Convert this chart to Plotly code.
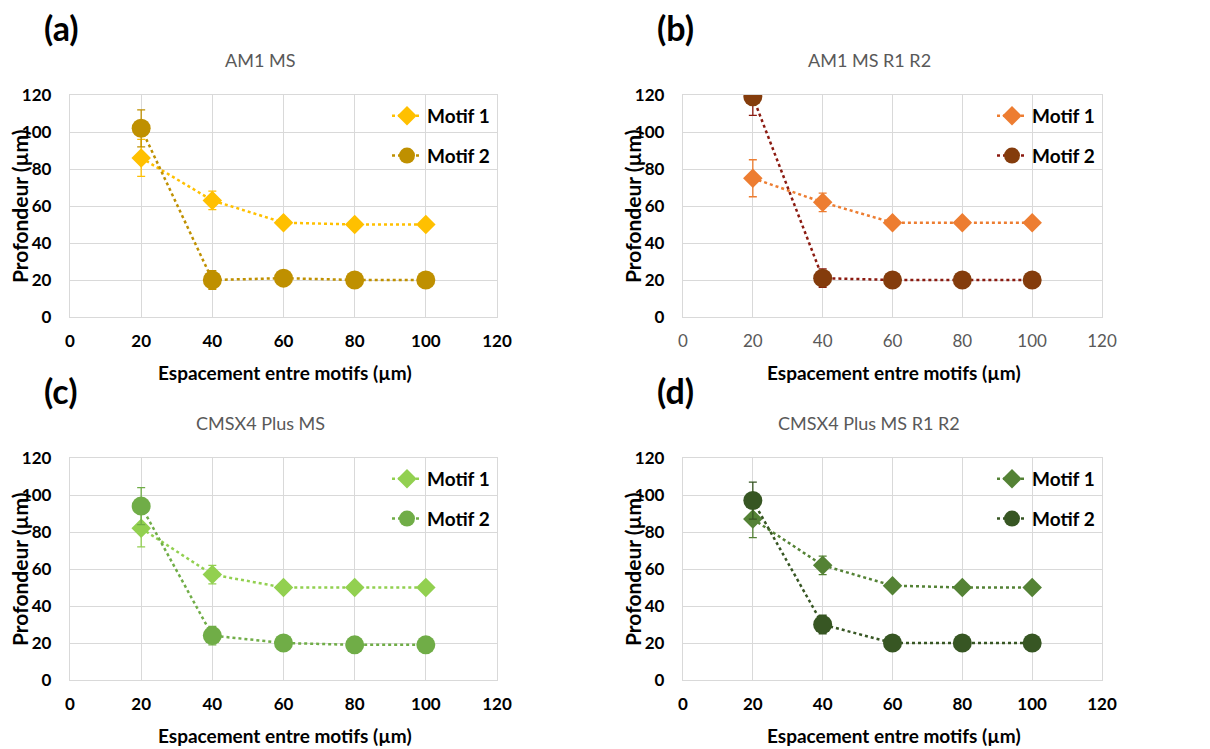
import plotly.graph_objects as go

# ---- data ----
spacing = [20, 40, 60, 80, 100]
panel_titles = ["AM1 MS", "AM1 MS R1 R2", "CMSX4 Plus MS", "CMSX4 Plus MS R1 R2"]
panel_labels = ["(a)", "(b)", "(c)", "(d)"]
series_names = ["Motif 1", "Motif 2"]

a_motif1 = [86, 63, 51, 50, 50]
a_motif1_err = [10, 5, 1, 1, 1]
a_motif2 = [102, 20, 21, 20, 20]
a_motif2_err = [10, 5, 1, 1, 1]

b_motif1 = [75, 62, 51, 51, 51]
b_motif1_err = [10, 5, 1, 1, 1]
b_motif2 = [119, 21, 20, 20, 20]
b_motif2_err = [10, 5, 1, 1, 1]

c_motif1 = [82, 57, 50, 50, 50]
c_motif1_err = [10, 5, 1, 1, 1]
c_motif2 = [94, 24, 20, 19, 19]
c_motif2_err = [10, 5, 1, 1, 1]

d_motif1 = [87, 62, 51, 50, 50]
d_motif1_err = [10, 5, 1, 1, 1]
d_motif2 = [97, 30, 20, 20, 20]
d_motif2_err = [10, 5, 1, 1, 1]

x_ticks = [0, 20, 40, 60, 80, 100, 120]
y_ticks = [0, 20, 40, 60, 80, 100, 120]

panels = [
    (a_motif1, a_motif1_err, a_motif2, a_motif2_err),
    (b_motif1, b_motif1_err, b_motif2, b_motif2_err),
    (c_motif1, c_motif1_err, c_motif2, c_motif2_err),
    (d_motif1, d_motif1_err, d_motif2, d_motif2_err),
]

# ---- styling ----
OFF = 8  # page body margin
W, H = 1210 - OFF, 749 - OFF
FONT = "Lato, 'Open Sans', sans-serif"
m1_colors = ["#FFC000", "#ED7D31", "#92D050", "#548235"]
m2_colors = ["#BF9000", "#843C0C", "#70AD47", "#375623"]
m2_line = ["#BF9000", "#8B1A10", "#70AD47", "#375623"]

# pixel boxes (window coords) of plot areas: (x0, x1, ytop, ybottom)
boxes = [(70, 497, 95, 317), (683, 1102, 95, 317),
         (70, 497, 458, 680), (683, 1102, 458, 680)]
title_centers = [260, 869, 260, 869]

def px_x(p):
    return (p - OFF) / W

def px_y(p):
    return 1 - (p - OFF) / H

fig = go.Figure()
annotations = []

for i, (m1, m1e, m2, m2e) in enumerate(panels):
    n = "" if i == 0 else str(i + 1)
    xa, ya = "x" + n, "y" + n
    leg = "legend" + n
    fig.add_trace(go.Scatter(
        x=spacing, y=m1, name=series_names[0], xaxis=xa, yaxis=ya,
        mode="lines+markers", legend=leg, legendgroup="g1",
        line=dict(color=m1_colors[i], width=2.5, dash="dot"),
        marker=dict(symbol="diamond", size=15, color=m1_colors[i]),
        error_y=dict(type="data", array=m1e, color=m1_colors[i], thickness=1.3, width=4),
    ))
    fig.add_trace(go.Scatter(
        x=spacing, y=m2, name=series_names[1], xaxis=xa, yaxis=ya,
        mode="lines+markers", legend=leg, legendgroup="g2",
        line=dict(color=m2_line[i], width=2.5, dash="dot"),
        marker=dict(symbol="circle", size=19, color=m2_colors[i]),
        error_y=dict(type="data", array=m2e, color=m2_line[i], thickness=1.3, width=4),
    ))

    x0, x1, yt, yb = boxes[i]
    xk = "xaxis" + n
    yk = "yaxis" + n
    tick_bold = not (i == 1)
    fig.layout[xk] = dict(
        domain=[px_x(x0), px_x(x1)], anchor=ya, range=[0, 120], automargin=False,
        tickvals=x_ticks, ticktext=[str(v) for v in x_ticks],
        showgrid=True, gridcolor="#D9D9D9", gridwidth=1.3,
        showline=True, linecolor="#D9D9D9", linewidth=1.3, mirror=True,
        zeroline=False, ticks="outside", ticklen=8, tickcolor="rgba(0,0,0,0)",
        tickfont=dict(family=FONT, size=17,
                      color="#000000" if tick_bold else "#595959",
                      weight="bold" if tick_bold else "normal"),
    )
    fig.layout[yk] = dict(
        domain=[px_y(yb), px_y(yt)], anchor=xa, range=[0, 120], automargin=False,
        tickvals=y_ticks, ticktext=[str(v) for v in y_ticks],
        showgrid=True, gridcolor="#D9D9D9", gridwidth=1.3,
        showline=True, linecolor="#D9D9D9", linewidth=1.3, mirror=True,
        zeroline=False, ticks="outside", ticklen=14, tickcolor="rgba(0,0,0,0)",
        tickfont=dict(family=FONT, size=17, color="#000000", weight="bold"),
    )
    fig.layout[leg] = dict(
        x=px_x(x1 - 2), y=px_y(yt + 2), xanchor="right", yanchor="top",
        xref="paper", yref="paper",
        bgcolor="rgba(255,255,255,0)", borderwidth=0,
        font=dict(family=FONT, size=19, color="#000000", weight="bold"),
        tracegroupgap=12, traceorder="grouped", itemsizing="trace",
    )

    cx = (x0 + x1) / 2
    annotations.append(dict(
        text=panel_titles[i], x=px_x(title_centers[i]), y=px_y(yt - 35),
        xref="paper", yref="paper",
        showarrow=False, xanchor="center", yanchor="middle",
        font=dict(family=FONT, size=18, color="#595959")))
    annotations.append(dict(
        text=panel_labels[i], x=px_x(x0 - 28), y=px_y(yt - 68), xref="paper", yref="paper",
        showarrow=False, xanchor="left", yanchor="middle",
        font=dict(family=FONT, size=34, color="#000000", weight="bold")))
    annotations.append(dict(
        text="Espacement entre motifs (µm)", x=px_x(cx + 1), y=px_y(yb + 55),
        xref="paper", yref="paper", showarrow=False, xanchor="center", yanchor="middle",
        font=dict(family=FONT, size=19, color="#000000", weight="bold")))
    annotations.append(dict(
        text="Profondeur (µm)", x=px_x(x0 - 51), y=px_y((yt + yb) / 2 + 1),
        xref="paper", yref="paper", showarrow=False, xanchor="center", yanchor="middle",
        textangle=-90,
        font=dict(family=FONT, size=21, color="#000000", weight="bold")))

fig.update_layout(
    width=W, height=H, margin=dict(l=0, r=0, t=0, b=0, autoexpand=False),
    paper_bgcolor="white", plot_bgcolor="white",
    showlegend=True, annotations=annotations,
)

fig.write_html("out.html")
